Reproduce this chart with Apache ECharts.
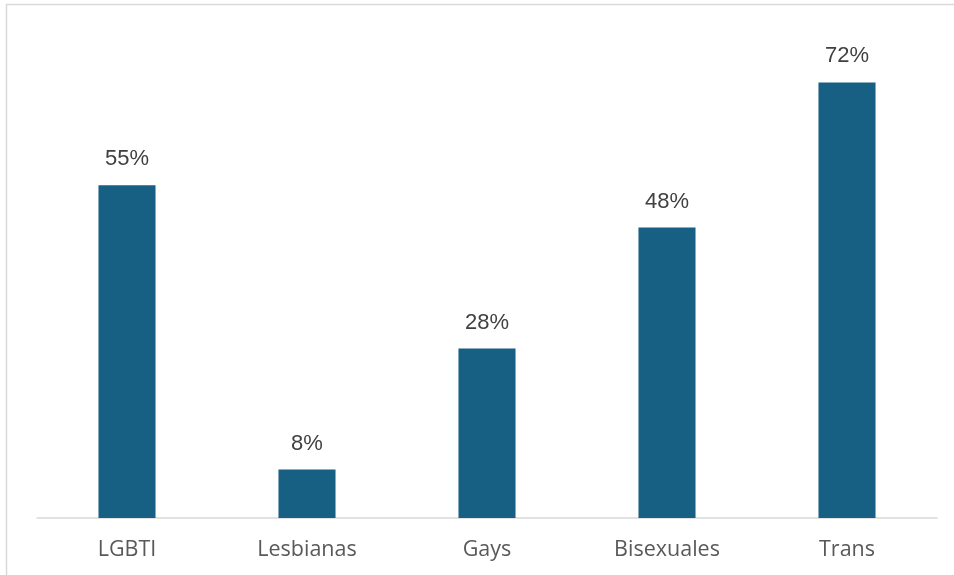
<!DOCTYPE html>
<html>
<head>
<meta charset="utf-8">
<script src="https://cdn.jsdelivr.net/npm/echarts@6/dist/echarts.min.js"></script>
<style>html,body{margin:0;padding:0;background:#fff;}#c{width:954px;height:575px;}</style>
</head>
<body>
<div id="c"></div>
<script>
const categories = ["LGBTI", "Lesbianas", "Gays", "Bisexuales", "Trans"];
const values = [55, 8, 28, 48, 72];

const chart = echarts.init(document.getElementById('c'), null, {renderer: 'canvas'});
chart.setOption({
  animation: false,
  backgroundColor: '#ffffff',
  graphic: [{
    type: 'rect',
    shape: {x: 6.5, y: 4.5, width: 960, height: 600},
    style: {fill: 'none', stroke: '#d9d9d9', lineWidth: 1.5},
    silent: true
  }],
  grid: {left: 37, right: 17, top: 34, bottom: 57},
  xAxis: {
    type: 'category',
    data: categories,
    axisLine: {show: true, lineStyle: {color: '#d9d9d9', width: 1.5}},
    axisTick: {show: false},
    axisLabel: {color: '#595959', fontSize: 21.5, fontFamily: '"Open Sans", "Liberation Sans", sans-serif', margin: 21}
  },
  yAxis: {
    type: 'value',
    min: 0, max: 80,
    show: false,
    splitLine: {show: false}
  },
  series: [{
    type: 'bar',
    data: values,
    barWidth: '31.7%',
    itemStyle: {color: '#175f83'},
    label: {
      show: true,
      position: 'top',
      distance: 15,
      formatter: p => p.value + '%',
      color: '#404040',
      fontSize: 22,
      fontFamily: '"Liberation Sans", Arial, sans-serif'
    }
  }]
});
</script>
</body>
</html>
